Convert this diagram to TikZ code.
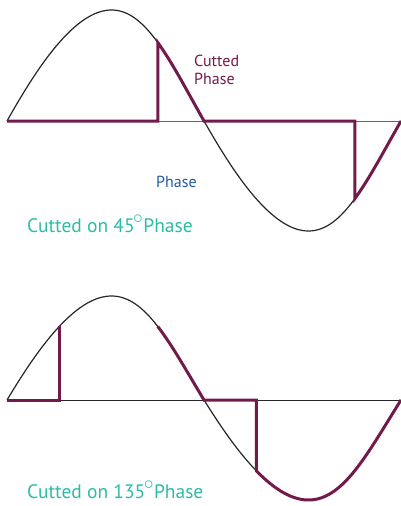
\documentclass[tikz,border=0pt]{standalone}
\usepackage{fontspec}
\setmainfont{PT Sans}
\definecolor{cutpurple}{HTML}{731A4C}
\definecolor{tealtxt}{HTML}{2DBBA8}
\definecolor{bluetxt}{HTML}{235A9A}
\newcommand{\degring}{\kern-1.5pt\raisebox{0.42em}{\scalebox{1.35}{$\scriptstyle\circ$}}\kern0.5pt}
\tikzset{
  wave/.style={line width=1.2pt, black!85},
  axisline/.style={line width=1pt, black!60},
  cutline/.style={line width=3pt, cutpurple},
  lbl/.style={inner sep=0pt, anchor=base west, font=\fontsize{16}{18}\selectfont},
  caption/.style={inner sep=0pt, anchor=base west, text=tealtxt, font=\fontsize{19.5}{22}\selectfont}
}
\begin{document}
\begin{tikzpicture}[x=1pt,y=-1pt]
\useasboundingbox (0,0) rectangle (401,506);
% ---------- top wave ----------
\draw[axisline] (7,121) -- (401,121);
\draw[wave] plot[domain=0:180,samples=90,variable=\t] ({7+1.09444*\t+3*(1-cos(2*\t))},{121-111*sin(\t)});
\draw[wave] plot[domain=180:360,samples=90,variable=\t] ({7+1.09444*\t+3*(1-cos(2*\t))},{121-110*sin(\t)});
\draw[cutline] (7,121) -- (157.75,121)
  -- plot[domain=135:180,samples=30,variable=\t] ({7+1.09444*\t+3*(1-cos(2*\t))},{121-111*sin(\t)})
  -- (354.75,121)
  -- plot[domain=315:360,samples=30,variable=\t] ({7+1.09444*\t+3*(1-cos(2*\t))},{121-110*sin(\t)});
\node[lbl, text=cutpurple] (cutlbl) at (194,66) {Cutted};
\node[lbl, text=cutpurple] (cutlbl2) at (194,84) {Phase};
\node[lbl, text=bluetxt] (phaselbl) at (156,187) {Phase};
\node[caption] (cap1) at (27,232) {Cutted on 45\degring Phase};
% ---------- bottom wave ----------
\draw[wave, line width=1pt] (7,400) -- (401,400);
\draw[wave] plot[domain=0:180,samples=90,variable=\t] ({7+1.09444*\t+3*(1-cos(2*\t))},{400-104*sin(\t)});
\draw[wave] plot[domain=180:360,samples=90,variable=\t] ({7+1.09444*\t+3*(1-cos(2*\t))},{400-100*sin(\t)});
\draw[cutline] (7,400) -- (59.25,400) -- (59.25,{400-104*sin(45)});
\draw[cutline] plot[domain=135:180,samples=30,variable=\t] ({7+1.09444*\t+3*(1-cos(2*\t))},{400-104*sin(\t)})
  -- (256.25,400)
  -- plot[domain=225:360,samples=60,variable=\t] ({7+1.09444*\t+3*(1-cos(2*\t))},{400-100*sin(\t)});
\node[caption] (cap2) at (27,498) {Cutted on 135\degring Phase};
\end{tikzpicture}
\end{document}
